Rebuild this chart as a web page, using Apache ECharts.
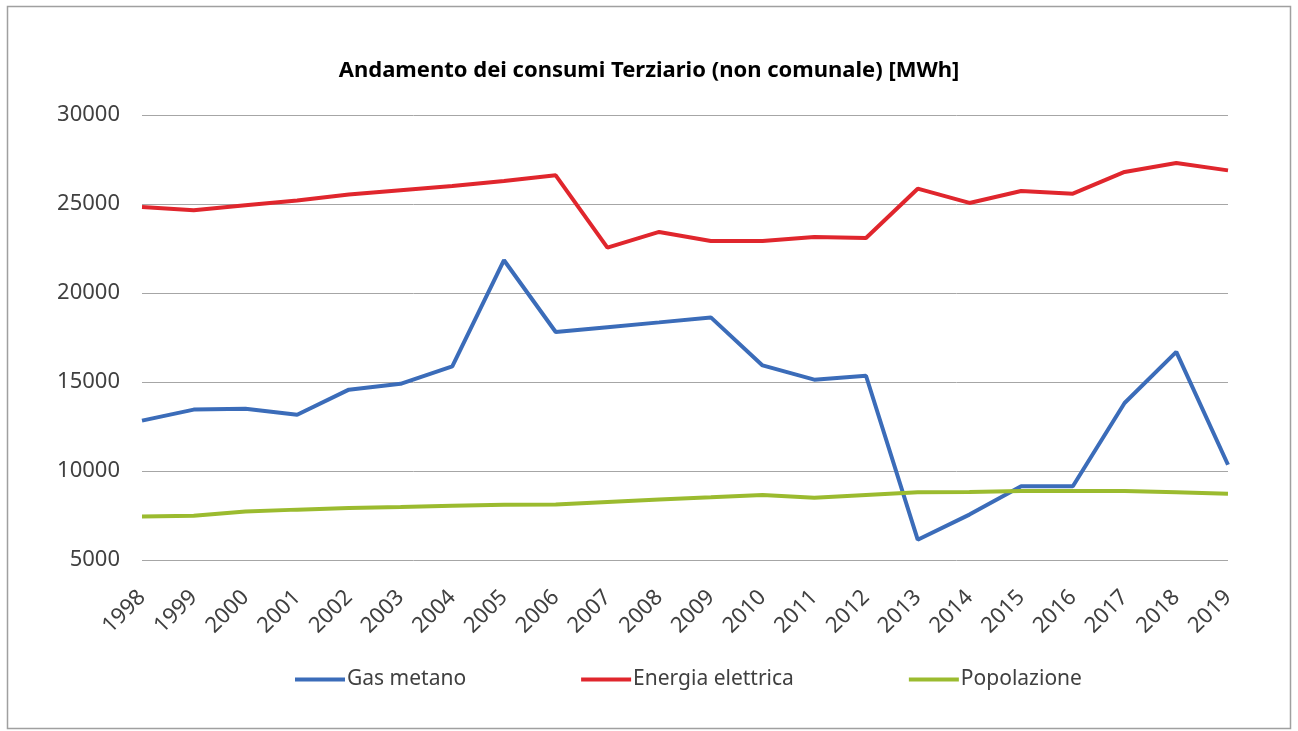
<!DOCTYPE html>
<html>
<head>
<meta charset="utf-8">
<script src="https://cdn.jsdelivr.net/npm/echarts@6/dist/echarts.min.js"></script>
<style>
  html, body { margin: 0; padding: 0; background: #fff; }
  #chart { width: 1298px; height: 731px; }
</style>
</head>
<body>
<div id="chart"></div>
<script>
// dati
var anni = ['1998', '1999', '2000', '2001', '2002', '2003', '2004', '2005', '2006', '2007', '2008',
  '2009', '2010', '2011', '2012', '2013', '2014', '2015', '2016', '2017', '2018', '2019'];
var gasMetano = [12830, 13450, 13500, 13160, 14570, 14900, 15880, 21840, 17810, 18080, 18350,
  18630, 15930, 15130, 15350, 6140, 7550, 9140, 9140, 13820, 16690, 10350];
var energiaElettrica = [24830, 24650, 24930, 25200, 25530, 25770, 26010, 26290, 26610, 22550, 23430,
  22920, 22920, 23150, 23090, 25860, 25060, 25730, 25580, 26800, 27300, 26890];
var popolazione = [7450, 7490, 7730, 7830, 7920, 7980, 8050, 8110, 8120, 8260, 8400,
  8520, 8650, 8500, 8650, 8800, 8820, 8870, 8880, 8880, 8800, 8720];

var myChart = echarts.init(document.getElementById('chart'));

var font = '"Noto Sans", sans-serif';

function serie(nome, dati, colore) {
  return {
    name: nome,
    type: 'line',
    data: dati,
    symbol: 'none',
    lineStyle: { width: 4, color: colore },
    itemStyle: { color: colore }
  };
}

var option = {
  animation: false,
  textStyle: { fontFamily: font },
  graphic: [{
    type: 'rect',
    shape: { x: 7.5, y: 6.5, width: 1283, height: 722 },
    style: { fill: 'none', stroke: '#a0a0a0', lineWidth: 1.5 },
    silent: true
  }],
  title: {
    text: 'Andamento dei consumi Terziario (non comunale) [MWh]',
    left: 'center',
    top: 55,
    textStyle: { fontFamily: font, fontSize: 22, fontWeight: 'bold', color: '#000' }
  },
  legend: {
    left: 290,
    top: 664,
    icon: 'rect',
    itemWidth: 50,
    itemHeight: 4,
    itemGap: 115,
    textStyle: { fontFamily: font, fontSize: 21, color: '#404040', padding: [0, 0, 0, -3] },
    data: ['Gas metano', 'Energia elettrica', 'Popolazione']
  },
  grid: { left: 142, right: 70, top: 115, bottom: 171 },
  xAxis: {
    type: 'category',
    data: anni,
    boundaryGap: false,
    axisLine: { show: false },
    axisTick: { show: false },
    axisLabel: { rotate: 45, fontSize: 22, color: '#404040', margin: 34, fontFamily: font }
  },
  yAxis: {
    type: 'value',
    min: 5000,
    max: 30000,
    interval: 5000,
    axisLine: { show: false },
    axisTick: { show: false },
    axisLabel: { fontSize: 22, color: '#404040', margin: 22, fontFamily: font,
      formatter: function (v) { return String(v); } },
    splitLine: { lineStyle: { color: '#a6a6a6', width: 1 } }
  },
  series: [
    serie('Gas metano', gasMetano, '#3b6cb9'),
    serie('Energia elettrica', energiaElettrica, '#e0262d'),
    serie('Popolazione', popolazione, '#9bbb2f')
  ]
};

myChart.setOption(option);
</script>
</body>
</html>
